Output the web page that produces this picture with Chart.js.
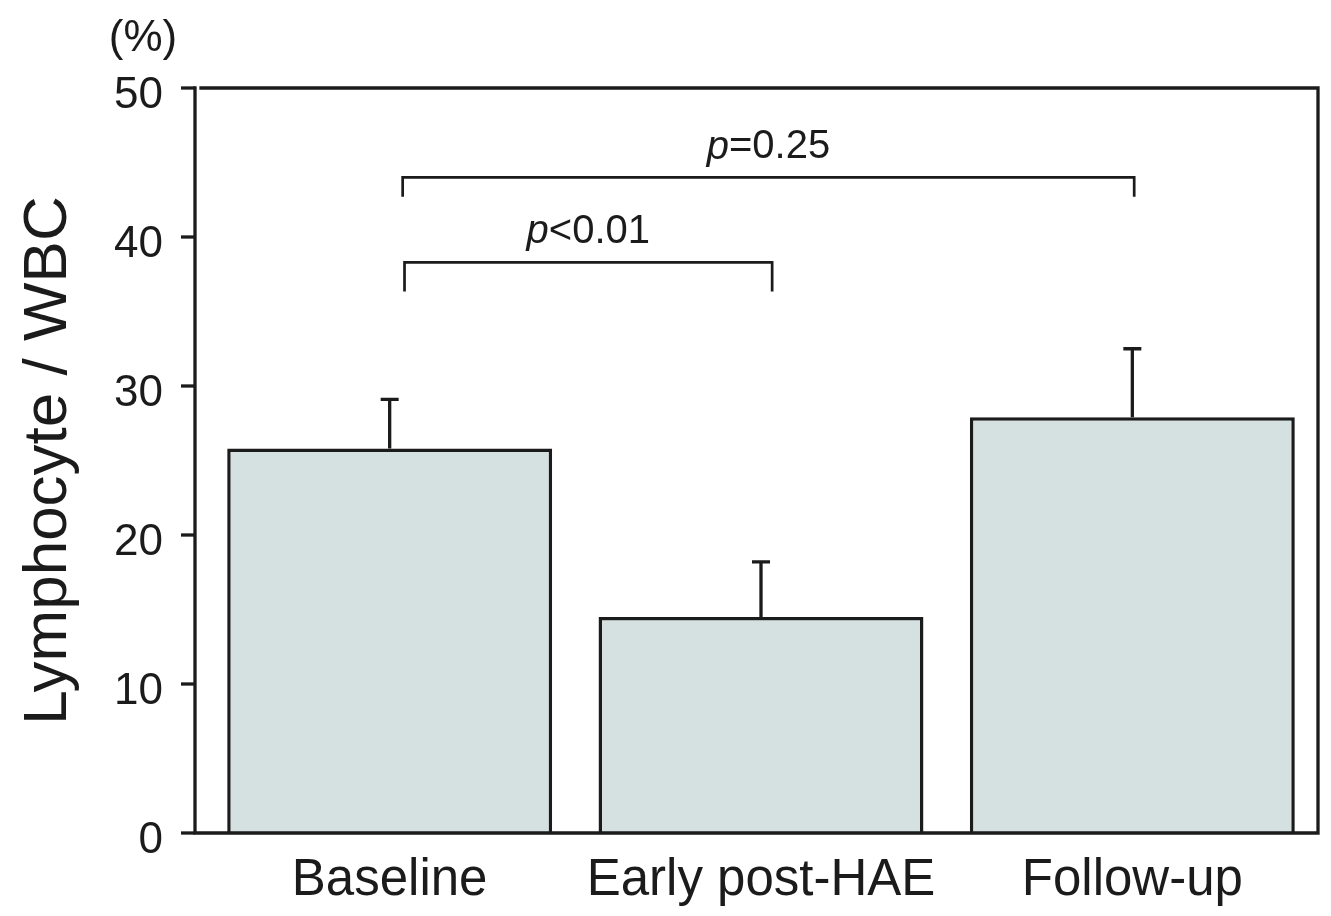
<!DOCTYPE html>
<html>
<head>
<meta charset="utf-8">
<script src="https://cdn.jsdelivr.net/npm/chart.js@4.4.1/dist/chart.umd.min.js"></script>
<style>
  html, body { margin: 0; padding: 0; background: #fff; }
  #wrap { width: 1331px; height: 916px; }
</style>
</head>
<body>
<div id="wrap"><canvas id="chart"></canvas></div>
<script>
// data
const categories = ["Baseline", "Early post-HAE", "Follow-up"];
const meanValues = [25.8, 14.5, 27.9];
const errValues = [3.3, 3.7, 4.6];
const yMax = 50;
const yStep = 10;
// p-value brackets: from/to are category positions, level is the y value of the bar
const bracketFrom = [0.04, 0.035];
const bracketTo = [1.03, 2.005];
const bracketLevel = [38.3, 44.0];
const bracketDrop = [1.95, 1.3];
const bracketLabel = ["<0.01", "=0.25"];
const yUnit = "(%)";

const ink = "#1b1b1b";
const FONT = "'Liberation Sans', Arial, sans-serif";
const AXIS_GAP = 9; // y axis sits a little left of the plot box

const extras = {
    id: "extras",
    afterDatasetsDraw(chart) {
        const { ctx, chartArea: a, scales: { x, y } } = chart;
        const ax = a.left - AXIS_GAP;
        ctx.save();
        ctx.strokeStyle = ink;
        ctx.fillStyle = ink;
        ctx.lineWidth = 3.3;
        ctx.lineCap = "square";

        // axes + frame
        ctx.beginPath();
        ctx.moveTo(ax, a.top);
        ctx.lineTo(ax, a.bottom);
        ctx.lineTo(a.right, a.bottom);
        ctx.lineTo(a.right, a.top);
        ctx.lineTo(ax + 6, a.top);
        ctx.stroke();

        // y tick marks
        ctx.lineCap = "butt";
        y.ticks.forEach(t => {
            const py = y.getPixelForValue(t.value);
            ctx.beginPath();
            ctx.moveTo(ax - 14, py);
            ctx.lineTo(ax, py);
            ctx.stroke();
        });

        // error bars (upper only)
        meanValues.forEach((v, i) => {
            const px = x.getPixelForValue(i);
            const y0 = y.getPixelForValue(v);
            const y1 = y.getPixelForValue(v + errValues[i]);
            ctx.beginPath();
            ctx.moveTo(px, y0);
            ctx.lineTo(px, y1);
            ctx.moveTo(px - 9, y1);
            ctx.lineTo(px + 9, y1);
            ctx.stroke();
        });

        // brackets
        ctx.lineWidth = 2.7;
        bracketLevel.forEach((lv, i) => {
            const x1 = x.getPixelForValue(bracketFrom[i]);
            const x2 = x.getPixelForValue(bracketTo[i]);
            const yt = y.getPixelForValue(lv);
            const yb = y.getPixelForValue(lv - bracketDrop[i]);
            ctx.beginPath();
            ctx.moveTo(x1, yb);
            ctx.lineTo(x1, yt);
            ctx.lineTo(x2, yt);
            ctx.lineTo(x2, yb);
            ctx.stroke();

            // label: italic p + rest
            const ital = "italic 40px " + FONT;
            const norm = "40px " + FONT;
            ctx.font = ital;
            const wp = ctx.measureText("p").width;
            ctx.font = norm;
            const wr = ctx.measureText(bracketLabel[i]).width;
            const cx = (x1 + x2) / 2;
            const sx = cx - (wp + wr) / 2;
            const ty = yt - 30;
            ctx.textBaseline = "middle";
            ctx.textAlign = "left";
            ctx.font = ital;
            ctx.fillText("p", sx, ty);
            ctx.font = norm;
            ctx.fillText(bracketLabel[i], sx + wp, ty);
        });

        // unit label
        ctx.font = "44px " + FONT;
        ctx.textAlign = "center";
        ctx.textBaseline = "middle";
        ctx.fillText(yUnit, a.left - 61, a.top - 49);
        ctx.restore();
    }
};

new Chart(document.getElementById("chart"), {
    type: "bar",
    data: {
        labels: categories,
        datasets: [{
            data: meanValues,
            backgroundColor: "#d5e1e1",
            borderColor: ink,
            borderWidth: 3.5,
            borderSkipped: "bottom",
            categoryPercentage: 1,
            barPercentage: 0.875
        }]
    },
    options: {
        responsive: true,
        maintainAspectRatio: false,
        animation: false,
        events: [],
        layout: { padding: { top: 88, right: 13, left: 0, bottom: 0 } },
        plugins: {
            legend: { display: false },
            tooltip: { enabled: false }
        },
        scales: {
            x: {
                grid: { display: false, drawTicks: false },
                border: { display: false },
                ticks: {
                    color: ink,
                    padding: 17,
                    font: { family: FONT, size: 51 }
                },
                afterFit(s) { s.height = 83; }
            },
            y: {
                min: 0,
                max: yMax,
                grid: { display: false, drawTicks: false },
                border: { display: false },
                ticks: {
                    stepSize: yStep,
                    color: ink,
                    padding: 41,
                    labelOffset: 8,
                    font: { family: FONT, size: 44 }
                },
                title: {
                    display: true,
                    text: "Lymphocyte / WBC",
                    color: ink,
                    padding: { top: 12, bottom: 0 },
                    font: { family: FONT, size: 62 }
                },
                afterFit(s) { s.width = 204; }
            }
        }
    },
    plugins: [extras]
});
</script>
</body>
</html>
